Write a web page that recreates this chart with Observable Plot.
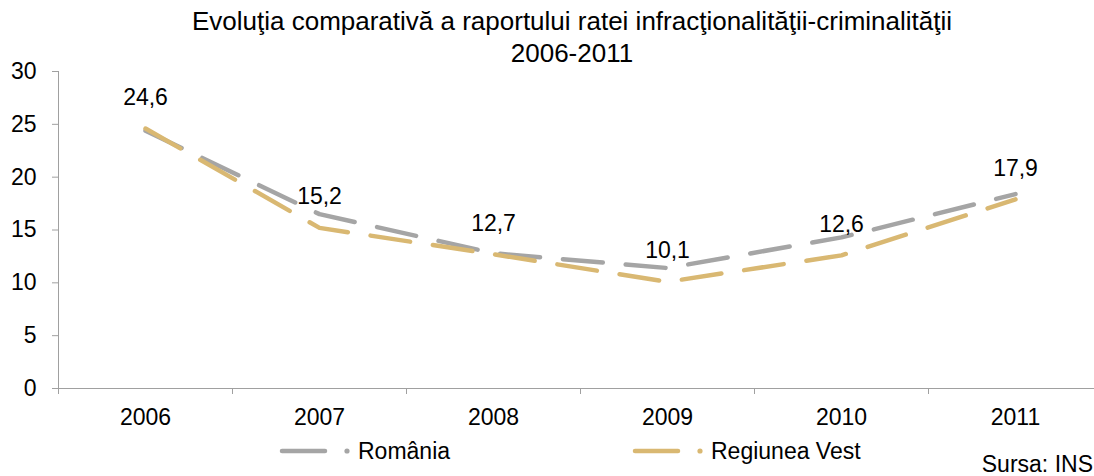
<!DOCTYPE html>
<html>
<head>
<meta charset="utf-8">
<script src="https://cdn.jsdelivr.net/npm/d3@7"></script>
<script src="https://cdn.jsdelivr.net/npm/@observablehq/plot@0.6"></script>
<style>
  html, body { margin: 0; padding: 0; background: #fff; }
  body { width: 1094px; height: 476px; position: relative; overflow: hidden;
         font-family: "Liberation Sans", Arial, sans-serif; color: #000; }
  #title { position: absolute; left: 0; width: 1094px; top: 5px; text-align: center;
           font-size: 26px; line-height: 32px; padding-left: 50px; box-sizing: border-box; }
  #chart { position: absolute; left: 0; top: 0; }
  #legend { position: absolute; left: 0; top: 438px; width: 1094px; height: 26px; }
  #source { position: absolute; right: 1px; top: 451px; font-size: 23px; line-height: 26px; }
</style>
</head>
<body>
<div id="chart"></div>
<div id="title">Evoluţia comparativă a raportului ratei infracţionalităţii-criminalităţii<br>2006-2011</div>
<div id="legend"></div>
<div id="source">Sursa: INS</div>
<script>
const years = [2006, 2007, 2008, 2009, 2010, 2011];
const romania = [24.4, 16.5, 12.8, 11.4, 14.3, 18.4];
const vest = [24.6, 15.2, 12.7, 10.1, 12.6, 17.9];
const seriesNames = ["România", "Regiunea Vest"];
const seriesColors = ["#A5A5A5", "#D9B872"];
const yTicks = [0, 5, 10, 15, 20, 25, 30];

const rows = years.flatMap((yr, i) => [
  {year: yr, value: romania[i], series: seriesNames[0]},
  {year: yr, value: vest[i], series: seriesNames[1]}
]);
const boundaries = d3.range(years.length + 1).map(i => years[0] - 0.5 + i);
const fmt = v => String(v.toFixed(1)).replace(".", ",");

const plot = Plot.plot({
  width: 1094,
  height: 476,
  marginLeft: 58,
  marginRight: 0,
  marginTop: 71,
  marginBottom: 88,
  style: {fontFamily: "'Liberation Sans', Arial, sans-serif", fontSize: "23px", color: "#000", background: "transparent"},
  x: {type: "linear", domain: [years[0] - 0.5, years[years.length - 1] + 0.5], range: [58, 1102]},
  y: {domain: [0, 30]},
  marks: [
    Plot.axisY({ticks: yTicks, tickSize: 6, tickPadding: 16, stroke: "#A0A0A0", fontSize: 23, label: null, tickFormat: d => String(d)}),
    Plot.axisX({ticks: years, tickSize: 0, tickPadding: 20, fontSize: 23, label: null, tickFormat: d => String(d)}),
    Plot.axisX({ticks: boundaries, tickSize: 6, text: null, stroke: "#A0A0A0", label: null}),
    Plot.ruleX([years[0] - 0.5], {stroke: "#A0A0A0", strokeWidth: 1}),
    Plot.ruleY([0], {stroke: "#A0A0A0", strokeWidth: 1}),
    Plot.line(rows.filter(d => d.series === seriesNames[0]), {x: "year", y: "value", stroke: seriesColors[0], strokeWidth: 4.5, strokeDasharray: "40,23", strokeLinecap: "round", strokeLinejoin: "round"}),
    Plot.line(rows.filter(d => d.series === seriesNames[1]), {x: "year", y: "value", stroke: seriesColors[1], strokeWidth: 4.5, strokeDasharray: "40,23", strokeLinecap: "round", strokeLinejoin: "round"}),
    Plot.text(rows.filter(d => d.series === seriesNames[1]), {x: "year", y: "value", text: d => fmt(d.value), dy: -31, fontSize: 23, fill: "#000"})
  ]
});
document.getElementById("chart").appendChild(plot);

// Legend
const legendItems = [
  {name: seriesNames[0], color: seriesColors[0], x: 279},
  {name: seriesNames[1], color: seriesColors[1], x: 632}
];
const svgNS = "http://www.w3.org/2000/svg";
const lg = document.createElementNS(svgNS, "svg");
lg.setAttribute("width", 1094);
lg.setAttribute("height", 26);
for (const it of legendItems) {
  const l1 = document.createElementNS(svgNS, "line");
  l1.setAttribute("x1", it.x + 3); l1.setAttribute("x2", it.x + 46);
  l1.setAttribute("y1", 13); l1.setAttribute("y2", 13);
  l1.setAttribute("stroke", it.color); l1.setAttribute("stroke-width", 4.5);
  l1.setAttribute("stroke-linecap", "round");
  lg.appendChild(l1);
  const c = document.createElementNS(svgNS, "circle");
  c.setAttribute("cx", it.x + 68); c.setAttribute("cy", 13); c.setAttribute("r", 2.6);
  c.setAttribute("fill", it.color);
  lg.appendChild(c);
  const t = document.createElementNS(svgNS, "text");
  t.setAttribute("x", it.x + 79); t.setAttribute("y", 13);
  t.setAttribute("dy", "0.35em");
  t.setAttribute("font-size", 23);
  t.setAttribute("font-family", "'Liberation Sans', Arial, sans-serif");
  t.textContent = it.name;
  lg.appendChild(t);
}
document.getElementById("legend").appendChild(lg);
</script>
</body>
</html>
